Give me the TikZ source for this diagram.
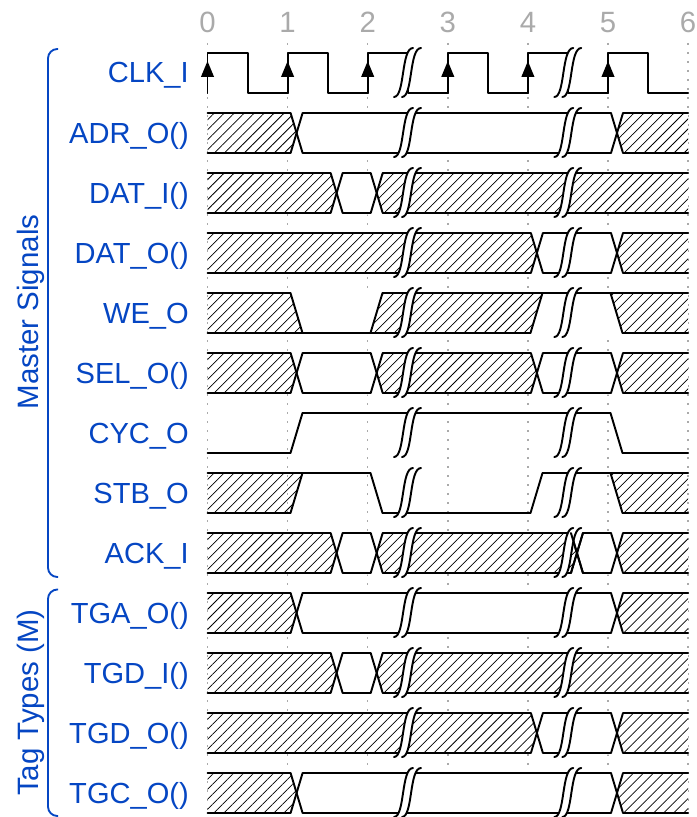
\documentclass[tikz,border=0pt]{standalone}
\usepackage{fontspec}
\setmainfont{Liberation Sans}
\usetikzlibrary{arrows.meta, patterns.meta}
\definecolor{sigblue}{RGB}{5,70,195}
\definecolor{tickgray}{RGB}{170,170,170}
\tikzset{
    sig/.style = {line width = 1.45pt, line cap = round, line join = round},
    hatched/.style = {pattern = {Lines[angle = 45, distance = 5.3pt, line width = 0.55pt]}, pattern color = black},
    griddot/.style = {tickgray, line width = 1.1pt, dash pattern = on 1.2pt off 5.55pt},
    siglabel/.style = {anchor = base east, inner sep = 0pt, text = sigblue, font = \fontsize{21.8}{25}\selectfont},
    sidelabel/.style = {anchor = base, rotate = 90, inner sep = 0pt, text = sigblue, font = \fontsize{22.1}{25}\selectfont},
    ticklabel/.style = {anchor = base, inner sep = 0pt, text = tickgray, font = \fontsize{22}{25}\selectfont},
    bracketline/.style = {sigblue, line width = 1.4pt, rounded corners = 7pt}
}
% the two break marks of one row
\newcommand{\breakmarks}{
    \foreach \bx in {186.5, 346.8} {
        \fill[white] (\bx,44) .. controls (\bx+11,44) and (\bx+7,-5) .. (\bx+19,-5) -- (\bx+27,-5)
            .. controls (\bx+15,-5) and (\bx+19,44) .. (\bx+8,44) -- cycle;
        \draw[sig] (\bx,44) .. controls (\bx+11,44) and (\bx+7,-5) .. (\bx+19,-5);
        \draw[sig] (\bx+8,44) .. controls (\bx+19,44) and (\bx+15,-5) .. (\bx+27,-5);
    }
}
% crossing at time #1
\newcommand{\crossx}[1]{
    \draw[sig] ({#1*80.1+3},0) -- ({#1*80.1+15},40);
    \draw[sig] ({#1*80.1+3},40) -- ({#1*80.1+15},0);
}
% hatched row #1 with valid windows #2
\newcommand{\busrow}[2]{
    \begin{scope}[shift = {(207.5,{53+60*#1})}]
        \fill[white] (0,0) rectangle (480.6,40);
        \fill[hatched] (0,0) rectangle (480.6,40);
        \draw[sig] (0,0) -- (480.6,0);
        \draw[sig] (0,40) -- (480.6,40);
        \foreach \ta/\tb in {#2} {
            \fill[white] ({\ta*80.1+3},-1.5) -- ({\tb*80.1+15},-1.5) -- ({\tb*80.1+9},20) -- ({\tb*80.1+15},41.5)
                -- ({\ta*80.1+3},41.5) -- ({\ta*80.1+9},20) -- cycle;
            \draw[sig] ({\ta*80.1+3},40) -- ({\ta*80.1+15},0) -- ({\tb*80.1+3},0) -- ({\tb*80.1+15},40);
            \draw[sig] ({\ta*80.1+3},0) -- ({\ta*80.1+15},40) -- ({\tb*80.1+3},40) -- ({\tb*80.1+15},0);
        }
        \breakmarks
    \end{scope}
}
\begin{document}
\begin{tikzpicture}[x = 0.75pt, y = -0.75pt]
    \useasboundingbox (0,0) rectangle (696,817);
    % time axis
    \foreach \t in {0,...,6} {
        \node[ticklabel] (tick\t) at ({207.5+80.1*\t},32.5) {\t};
        \draw[griddot] ({207.5+80.1*\t},43) -- ({207.5+80.1*\t},817);
    }
    % signal names
    \foreach \lab [count = \n from 0] in {CLK\_I, ADR\_O(), DAT\_I(), DAT\_O(), WE\_O, SEL\_O(), CYC\_O, STB\_O, ACK\_I, TGA\_O(), TGD\_I(), TGD\_O(), TGC\_O()}
        \node[siglabel] (sig\n) at (189,{83+60*\n}) {\lab};
    \node[sidelabel] (master) at (38,312) {Master Signals};
    \node[sidelabel] (tags) at (38,702.5) {Tag Types (M)};
    \draw[bracketline] (58,49) -- (48,49) -- (48,577) -- (58,577);
    \draw[bracketline] (58,589.5) -- (48,589.5) -- (48,816) -- (58,816);
    % CLK_I
    \begin{scope}[shift = {(207.5,53)}]
        \foreach \t in {0,...,5} {
            \draw[sig] ({\t*80.1},40) -- ({\t*80.1},0) -- ({\t*80.1+40.05},0) -- ({\t*80.1+40.05},40) -- ({\t*80.1+80.1},40);
            \draw[sig, -{Triangle[width = 9.5pt, length = 12pt]}] ({\t*80.1},40) -- ({\t*80.1},8);
        }
        \breakmarks
    \end{scope}
    % bus rows
    \busrow{1}{1/5}
    \busrow{2}{1.5/2}
    \busrow{3}{4/5}
    \busrow{5}{1/2, 4/5}
    \busrow{8}{1.5/2, 4.5/5}
    \busrow{9}{1/5}
    \busrow{10}{1.5/2}
    \busrow{11}{4/5}
    \busrow{12}{1/5}
    % ACK_I crossing stays on top of its break
    \begin{scope}[shift = {(207.5,533)}]
        \crossx{4.5}
    \end{scope}
    % WE_O
    \begin{scope}[shift = {(207.5,293)}]
        \fill[white] (0,0) rectangle (480.6,40);
        \fill[hatched] (0,0) -- (83,0) -- (95,40) -- (0,40) -- cycle;
        \fill[hatched] (163,40) -- (175,0) -- (335,0) -- (323,40) -- cycle;
        \fill[hatched] (403,0) -- (480.6,0) -- (480.6,40) -- (415,40) -- cycle;
        \draw[sig] (0,0) -- (83,0) -- (95,40);
        \draw[sig] (0,40) -- (323,40) -- (335,0);
        \draw[sig] (163,40) -- (175,0) -- (480.6,0);
        \draw[sig] (403,0) -- (415,40) -- (480.6,40);
        \breakmarks
    \end{scope}
    % CYC_O
    \begin{scope}[shift = {(207.5,413)}]
        \draw[sig] (0,40) -- (83,40) -- (95,0) -- (403,0) -- (415,40) -- (480.6,40);
        \breakmarks
    \end{scope}
    % STB_O
    \begin{scope}[shift = {(207.5,473)}]
        \fill[hatched] (0,0) -- (95,0) -- (83,40) -- (0,40) -- cycle;
        \fill[hatched] (403,0) -- (480.6,0) -- (480.6,40) -- (415,40) -- cycle;
        \draw[sig] (0,40) -- (83,40) -- (95,0);
        \draw[sig] (0,0) -- (163,0) -- (175,40) -- (323,40) -- (335,0) -- (480.6,0);
        \draw[sig] (403,0) -- (415,40) -- (480.6,40);
        \breakmarks
    \end{scope}
\end{tikzpicture}
\end{document}
